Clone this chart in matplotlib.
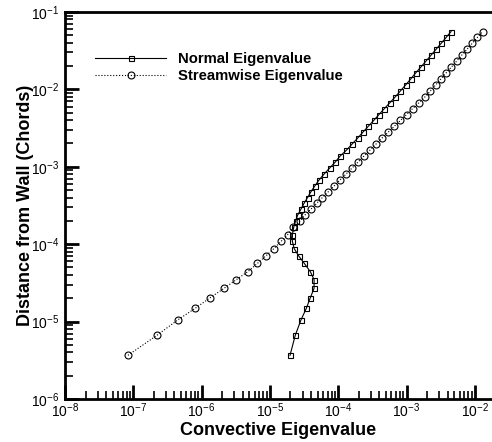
"""
Convective eigenvalues vs wall distance (log-log).
"""

import numpy as np
import matplotlib.pyplot as plt
from matplotlib.ticker import LogLocator, NullFormatter

plt.rcParams['font.family'] = ['Liberation Sans', 'DejaVu Sans']
plt.rcParams['mathtext.fontset'] = 'custom'
plt.rcParams['mathtext.rm'] = 'Liberation Sans'
plt.rcParams['mathtext.it'] = 'Liberation Sans:italic'
plt.rcParams['mathtext.bf'] = 'Liberation Sans:bold'

# wall distance (chords), shared by both series
dist = [3.67e-6, 6.65e-6, 1.05e-5, 1.48e-5, 2.04e-5, 2.69e-5, 3.48e-5, 4.41e-5,
        5.64e-5, 7.04e-5, 8.75e-5, 1.09e-4, 1.33e-4, 1.65e-4, 1.98e-4, 2.36e-4,
        2.81e-4, 3.36e-4, 4.01e-4, 4.78e-4, 5.70e-4, 6.80e-4, 8.11e-4, 9.68e-4,
        1.15e-3, 1.38e-3, 1.64e-3, 1.96e-3, 2.34e-3, 2.79e-3, 3.33e-3, 3.97e-3,
        4.73e-3, 5.65e-3, 6.73e-3, 8.03e-3, 9.58e-3, 1.14e-2, 1.36e-2, 1.63e-2,
        1.94e-2, 2.31e-2, 2.76e-2, 3.29e-2, 3.93e-2, 4.69e-2, 5.59e-2]

normal = [1.97e-5, 2.35e-5, 2.85e-5, 3.41e-5, 3.91e-5, 4.43e-5, 4.43e-5, 3.91e-5,
          3.19e-5, 2.64e-5, 2.27e-5, 2.13e-5, 2.13e-5, 2.23e-5, 2.37e-5, 2.54e-5,
          2.83e-5, 3.15e-5, 3.56e-5, 4.00e-5, 4.57e-5, 5.27e-5, 6.25e-5, 7.53e-5,
          9.03e-5, 1.07e-4, 1.32e-4, 1.59e-4, 1.92e-4, 2.29e-4, 2.75e-4, 3.31e-4,
          3.95e-4, 4.74e-4, 5.71e-4, 6.86e-4, 8.16e-4, 9.70e-4, 1.15e-3, 1.36e-3,
          1.62e-3, 1.92e-3, 2.28e-3, 2.70e-3, 3.21e-3, 3.80e-3, 4.49e-3]

streamwise = [8.35e-8, 2.22e-7, 4.47e-7, 8.00e-7, 1.34e-6, 2.13e-6, 3.22e-6, 4.73e-6,
              6.55e-6, 8.69e-6, 1.14e-5, 1.46e-5, 1.82e-5, 2.18e-5, 2.76e-5, 3.22e-5,
              3.94e-5, 4.81e-5, 5.87e-5, 7.19e-5, 8.77e-5, 1.07e-4, 1.31e-4, 1.60e-4,
              1.95e-4, 2.39e-4, 2.91e-4, 3.56e-4, 4.36e-4, 5.36e-4, 6.61e-4, 8.15e-4,
              1.00e-3, 1.23e-3, 1.52e-3, 1.87e-3, 2.24e-3, 2.67e-3, 3.18e-3, 3.78e-3,
              4.53e-3, 5.40e-3, 6.41e-3, 7.66e-3, 9.14e-3, 1.09e-2, 1.30e-2]

fig = plt.figure(figsize=(4.92, 4.42), dpi=100)
ax = fig.add_axes([0.1321, 0.0973, 0.868, 0.8756])

ax.plot(normal, dist, color='k', lw=0.8, marker='s', ms=3.6, mfc='none',
        mew=0.8, label='Normal Eigenvalue')
ax.plot(streamwise, dist, color='k', lw=0.8, ls=':', marker='o', ms=5, mfc='none',
        mew=0.8, label='Streamwise Eigenvalue')

ax.set_xscale('log')
ax.set_yscale('log')
ax.set_xlim(1e-8, 10 ** -1.748)
ax.set_ylim(1e-6, 1e-1)

ax.xaxis.set_major_locator(LogLocator(base=10, numticks=20))
ax.yaxis.set_major_locator(LogLocator(base=10, numticks=20))
ax.xaxis.set_minor_locator(LogLocator(base=10, subs=np.arange(2, 10), numticks=20))
ax.yaxis.set_minor_locator(LogLocator(base=10, subs=np.arange(2, 10), numticks=20))
ax.xaxis.set_minor_formatter(NullFormatter())
ax.yaxis.set_minor_formatter(NullFormatter())

ax.tick_params(which='both', direction='in', top=False, right=False, labelsize=10)
ax.tick_params(which='major', length=10, width=2)
ax.tick_params(which='minor', length=5.5, width=1.2)
ax.tick_params(axis='x', pad=2)
ax.tick_params(axis='y', pad=4)

for s in ['left', 'bottom', 'top']:
    ax.spines[s].set_linewidth(2)
ax.spines['right'].set_visible(False)

ax.set_xlabel('Convective Eigenvalue', fontsize=13, fontweight='bold', labelpad=1)
ax.set_ylabel('Distance from Wall (Chords)', fontsize=13, fontweight='bold', labelpad=-2)

leg = ax.legend(loc='upper left', bbox_to_anchor=(0.04, 0.93), frameon=False,
                handlelength=4.75, handletextpad=0.8, labelspacing=0.2,
                prop={'weight': 'bold', 'size': 10.7})

plt.savefig('out.png', dpi=100)
